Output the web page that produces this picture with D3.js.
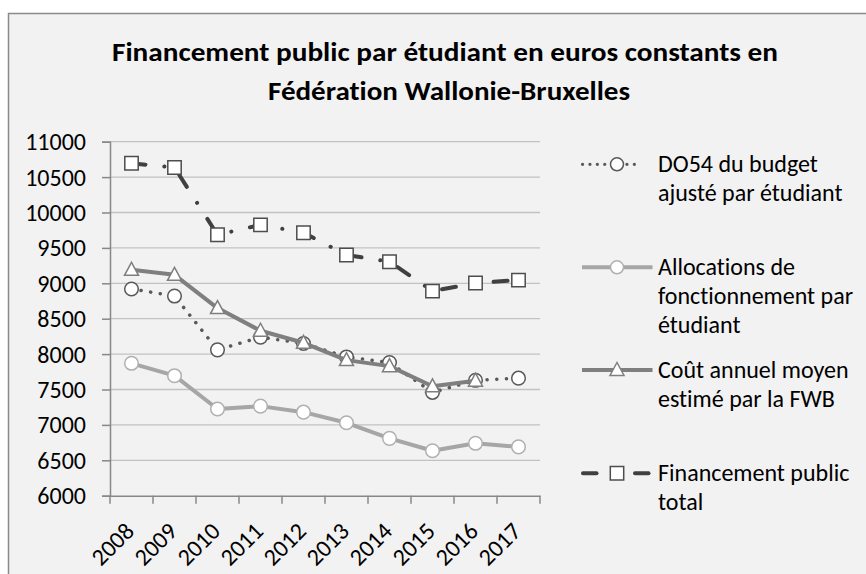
<!DOCTYPE html>
<html><head><meta charset="utf-8">
<script src="https://cdn.jsdelivr.net/npm/d3@7"></script>
<style>
html,body{margin:0;padding:0;background:#fff;}
svg{display:block;}
text{font-family:Carlito,"Open Sans","Noto Sans",sans-serif;fill:#000;font-variant-ligatures:none;font-feature-settings:"liga" 0;}
</style></head>
<body>
<svg id="chart" width="866" height="574"></svg>
<script>
const years = ["2008","2009","2010","2011","2012","2013","2014","2015","2016","2017"];
const do54 = [8920, 8820, 8060, 8240, 8150, 7960, 7880, 7460, 7630, 7660];
const allocations = [7870, 7695, 7225, 7265, 7180, 7030, 6810, 6635, 6740, 6690];
const coutMoyen = [9190, 9120, 8650, 8330, 8160, 7915, 7830, 7545, 7625, null];
const financementTotal = [10695, 10635, 9685, 9825, 9715, 9400, 9305, 8890, 9005, 9045];
const yTicks = [6000, 6500, 7000, 7500, 8000, 8500, 9000, 9500, 10000, 10500, 11000];
const titleLines = ["Financement public par étudiant en euros constants en", "Fédération Wallonie-Bruxelles"];
const legendLabels = [
  ["DO54 du budget", "ajusté par étudiant"],
  ["Allocations de", "fonctionnement par", "étudiant"],
  ["Coût annuel moyen", "estimé par la FWB"],
  ["Financement public", "total"]
];

const svg = d3.select("#chart");
svg.append("rect").attr("x", 8.5).attr("y", 13.5).attr("width", 870).attr("height", 570)
  .attr("fill", "#f2f2f2").attr("stroke", "#8a8a8a").attr("stroke-width", 1.5);

const tl = svg.append("g");
tl.append("text").attr("x", 445).attr("y", 61).attr("text-anchor", "middle")
  .attr("font-size", 26.7).attr("font-weight", "bold")
  .attr("textLength", 666).attr("lengthAdjust", "spacingAndGlyphs").text(titleLines[0]);
tl.append("text").attr("x", 449).attr("y", 100).attr("text-anchor", "middle")
  .attr("font-size", 26.7).attr("font-weight", "bold")
  .attr("textLength", 362).attr("lengthAdjust", "spacingAndGlyphs").text(titleLines[1]);

const x = d3.scaleBand().domain(years).range([110, 540]).paddingInner(0).paddingOuter(0);
const y = d3.scaleLinear().domain([6000, 11000]).range([495.7, 141.7]);
const cx = d => x(d) + x.bandwidth() / 2;

svg.append("g").selectAll("line").data(yTicks.filter(t => t > 6000)).join("line")
  .attr("x1", 110).attr("x2", 540).attr("y1", d => y(d)).attr("y2", d => y(d))
  .attr("stroke", "#c2c2c2").attr("stroke-width", 1.3);

const yAxis = d3.axisLeft(y).tickValues(yTicks).tickSize(8).tickFormat(d3.format("d"));
const gy = svg.append("g").attr("transform", "translate(110,0)").call(yAxis);
gy.select(".domain").attr("stroke", "#888").attr("stroke-width", 1.5);
gy.selectAll(".tick line").attr("stroke", "#888").attr("stroke-width", 1.5);
gy.selectAll(".tick text").attr("x", -24).attr("dy", "0.33em").attr("font-size", 24)
  .attr("fill", "#000").style("font-family", 'Carlito,"Open Sans",sans-serif');

const xAxis = d3.axisBottom(x).tickSize(0).tickFormat(d => d);
const gx = svg.append("g").attr("transform", "translate(0,495.7)").call(xAxis);
gx.select(".domain").attr("stroke", "#888").attr("stroke-width", 1.5);
gx.selectAll(".tick text").remove();
const bounds = years.map(d => x(d)).concat([540]);
gx.append("g").selectAll("line").data(bounds).join("line")
  .attr("x1", d => d).attr("x2", d => d).attr("y1", 0).attr("y2", 8)
  .attr("stroke", "#888").attr("stroke-width", 1.5);
gx.append("g").selectAll("text").data(years).join("text")
  .attr("transform", d => `translate(${cx(d) + 4},37) rotate(-45)`)
  .attr("text-anchor", "end").attr("font-size", 24).text(d => d);

const line = d3.line().defined(d => d[1] != null).x(d => cx(d[0])).y(d => y(d[1]));
const pairs = arr => years.map((yr, i) => [yr, arr[i]]);

function circleMarkers(g, arr, stroke) {
  g.append("g").selectAll("circle").data(pairs(arr).filter(d => d[1] != null)).join("circle")
    .attr("cx", d => cx(d[0])).attr("cy", d => y(d[1])).attr("r", 6.8)
    .attr("fill", "#fff").attr("stroke", stroke).attr("stroke-width", 1.5);
}
const triPath = "M0,-7.5L7,5.5L-7,5.5Z";
const sqPath = "M-6.7,-6.7H6.7V6.7H-6.7Z";

const s1 = svg.append("g");
s1.append("path").attr("d", line(pairs(do54))).attr("fill", "none").attr("stroke", "#595959")
  .attr("stroke-width", 3.5).attr("stroke-linecap", "round").attr("stroke-dasharray", "0.1,9.6");
circleMarkers(s1, do54, "#595959");

const s2 = svg.append("g");
s2.append("path").attr("d", line(pairs(allocations))).attr("fill", "none").attr("stroke", "#a6a6a6")
  .attr("stroke-width", 4).attr("stroke-linejoin", "round");
circleMarkers(s2, allocations, "#b0b0b0");

const s3 = svg.append("g");
s3.append("path").attr("d", line(pairs(coutMoyen))).attr("fill", "none").attr("stroke", "#7f7f7f")
  .attr("stroke-width", 4).attr("stroke-linejoin", "round");
s3.append("g").selectAll("path").data(pairs(coutMoyen).filter(d => d[1] != null)).join("path")
  .attr("d", triPath).attr("transform", d => `translate(${cx(d[0])},${y(d[1])})`)
  .attr("fill", "#fff").attr("stroke", "#7f7f7f").attr("stroke-width", 1.5);

const s4 = svg.append("g");
s4.append("path").attr("d", line(pairs(financementTotal))).attr("fill", "none").attr("stroke", "#404040")
  .attr("stroke-width", 4).attr("stroke-linecap", "round").attr("stroke-dasharray", "14,19,0.1,19");
s4.append("g").selectAll("path").data(pairs(financementTotal)).join("path")
  .attr("d", sqPath).attr("transform", d => `translate(${cx(d[0])},${y(d[1])})`)
  .attr("fill", "#fff").attr("stroke", "#4d4d4d").attr("stroke-width", 1.5);

const legY = [164.3, 267.3, 370, 473.3];
const lg = svg.append("g");
lg.append("line").attr("x1", 582.5).attr("x2", 641).attr("y1", legY[0]).attr("y2", legY[0])
  .attr("stroke", "#595959").attr("stroke-width", 3.2).attr("stroke-linecap", "round")
  .attr("stroke-dasharray", "0.1,7.3");
lg.append("circle").attr("cx", 617).attr("cy", legY[0]).attr("r", 6.5).attr("fill", "#fff")
  .attr("stroke", "#595959").attr("stroke-width", 1.5);
lg.append("line").attr("x1", 582).attr("x2", 652.5).attr("y1", legY[1]).attr("y2", legY[1])
  .attr("stroke", "#a6a6a6").attr("stroke-width", 4);
lg.append("circle").attr("cx", 617).attr("cy", legY[1]).attr("r", 6.5).attr("fill", "#fff")
  .attr("stroke", "#b0b0b0").attr("stroke-width", 1.5);
lg.append("line").attr("x1", 582).attr("x2", 652.5).attr("y1", legY[2]).attr("y2", legY[2])
  .attr("stroke", "#7f7f7f").attr("stroke-width", 4);
lg.append("path").attr("d", triPath).attr("transform", `translate(617,${legY[2]})`)
  .attr("fill", "#fff").attr("stroke", "#7f7f7f").attr("stroke-width", 1.5);
lg.append("line").attr("x1", 583).attr("x2", 596.5).attr("y1", legY[3]).attr("y2", legY[3])
  .attr("stroke", "#404040").attr("stroke-width", 4).attr("stroke-linecap", "round");
lg.append("line").attr("x1", 635).attr("x2", 648.5).attr("y1", legY[3]).attr("y2", legY[3])
  .attr("stroke", "#404040").attr("stroke-width", 4).attr("stroke-linecap", "round");
lg.append("path").attr("d", sqPath).attr("transform", `translate(617,${legY[3]})`)
  .attr("fill", "#fff").attr("stroke", "#4d4d4d").attr("stroke-width", 1.5);

legendLabels.forEach((lines, i) => {
  lg.append("g").selectAll("text").data(lines).join("text")
    .attr("x", 658).attr("y", (d, j) => legY[i] + 7.5 + j * 29)
    .attr("font-size", 24).text(d => d);
});
</script>
</body></html>
